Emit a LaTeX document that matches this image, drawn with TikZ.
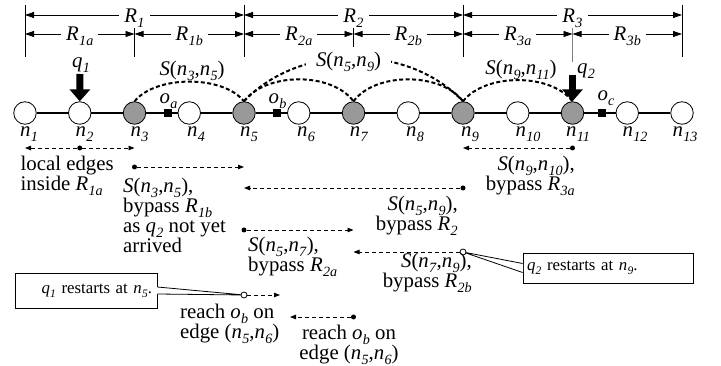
\documentclass[tikz,border=0pt]{standalone}
\usepackage{fontspec}
\setmainfont{Liberation Serif}
\usetikzlibrary{arrows.meta,calc}
\newcommand\ix[2]{\textit{#1}\kern0.3pt\raisebox{-0.22em}{\scalebox{0.68}{\textit{#2}}}}
\newcommand\Sx[2]{\textit{S}(\ix{n}{#1},\ix{n}{#2})}
\begin{document}
\begin{tikzpicture}[x=1pt,y=-1pt,
  vtx/.style={circle,draw,line width=0.8pt,minimum size=22.5pt,inner sep=0pt,fill=white},
  gvtx/.style={vtx,fill=black!40},
  obj/.style={rectangle,fill=black,minimum size=8pt,inner sep=0pt},
  lbl/.style={font=\fontsize{20.8}{20}\selectfont,inner sep=0pt},
  dim/.style={line width=0.8pt,{Triangle[length=9pt,width=6pt]}-{Triangle[length=9pt,width=6pt]}},
  dimlbl/.style={lbl,fill=white,inner xsep=5pt,inner ysep=1pt,anchor=base},
  tick/.style={line width=0.8pt},
  arcs/.style={line width=2pt,dash pattern=on 4pt off 2.5pt},
  walk/.style={line width=0.9pt,dash pattern=on 4pt off 3pt,-{Triangle[length=6pt,width=4.5pt]}},
  dotn/.style={circle,fill=black,minimum size=5pt,inner sep=0pt},
  odot/.style={circle,draw,fill=white,line width=0.8pt,minimum size=6pt,inner sep=0pt},
  qarrow/.style={line width=7pt,-{Triangle[length=12pt,width=20pt]}},
  notebox/.style={rectangle,draw,line width=0.8pt,fill=white,font=\fontsize{16.8}{16.8}\selectfont,minimum height=#1,inner ysep=0pt},
]
\useasboundingbox (0,0) rectangle (721,366);
\fill[white] (0,0) rectangle (721,366);

% ---------- top dimension lines ----------
\coordinate (t1a) at (25,5);     \coordinate (t1b) at (25,57);
\coordinate (t3a) at (134.5,27); \coordinate (t3b) at (134.5,57);
\coordinate (t5a) at (244,5);    \coordinate (t5b) at (244,57);
\coordinate (t7a) at (353.5,27); \coordinate (t7b) at (353.5,47);
\coordinate (t9a) at (463,5);    \coordinate (t9b) at (463,57);
\coordinate (t11a) at (572.5,27);\coordinate (t11b) at (572.5,62);
\coordinate (t13a) at (682,5);   \coordinate (t13b) at (682,57);
\draw[tick] (t1a) -- (t1b);
\draw[tick] (t3a) -- (t3b);
\draw[tick] (t5a) -- (t5b);
\draw[tick] (t7a) -- (t7b);
\draw[tick] (t9a) -- (t9b);
\draw[tick,gray] (t11a) -- (t11b);
\draw[tick] (t13a) -- (t13b);

\coordinate (r1l) at (25,15);  \coordinate (r1r) at (244,15);
\coordinate (r2r) at (463,15); \coordinate (r3r) at (682,15);
\draw[dim] (r1l) -- (r1r);
\draw[dim] (r1r) -- (r2r);
\draw[dim] (r2r) -- (r3r);
\node[dimlbl] (R1) at (134.5,22.5) {\ix{R}{1}};
\node[dimlbl] (R2) at (353.5,22.5) {\ix{R}{2}};
\node[dimlbl] (R3) at (572.5,22.5) {\ix{R}{3}};

\coordinate (s1) at (25,34);    \coordinate (s3) at (134.5,34);
\coordinate (s5) at (244,34);   \coordinate (s7) at (353.5,34);
\coordinate (s9) at (463,34);   \coordinate (s11) at (572.5,34);
\coordinate (s13) at (682,34);
\draw[dim] (s1) -- (s3);
\draw[dim] (s3) -- (s5);
\draw[dim] (s5) -- (s7);
\draw[dim] (s7) -- (s9);
\draw[dim] (s9) -- (s11);
\draw[dim] (s11) -- (s13);
\node[dimlbl] (R1a) at (79.75,40.5) {\ix{R}{1a}};
\node[dimlbl] (R1b) at (189.25,40.5) {\ix{R}{1b}};
\node[dimlbl] (R2a) at (298.75,40.5) {\ix{R}{2a}};
\node[dimlbl] (R2b) at (408.25,40.5) {\ix{R}{2b}};
\node[dimlbl] (R3a) at (517.75,40.5) {\ix{R}{3a}};
\node[dimlbl] (R3b) at (627.25,40.5) {\ix{R}{3b}};

% ---------- vertices ----------
\node[vtx]  (n1)  at (25,113) {};
\node[vtx]  (n2)  at (79.75,113) {};
\node[gvtx] (n3)  at (134.5,113) {};
\node[vtx]  (n4)  at (189.25,113) {};
\node[gvtx] (n5)  at (244,113) {};
\node[vtx]  (n6)  at (298.75,113) {};
\node[gvtx] (n7)  at (353.5,113) {};
\node[vtx]  (n8)  at (408.25,113) {};
\node[gvtx] (n9)  at (463,113) {};
\node[vtx]  (n10) at (517.75,113) {};
\node[gvtx] (n11) at (572.5,113) {};
\node[vtx]  (n12) at (627.25,113) {};
\node[vtx]  (n13) at (682,113) {};
\draw[line width=2pt] (n1) -- (n2) -- (n3) -- (n4) -- (n5) -- (n6) -- (n7)
  -- (n8) -- (n9) -- (n10) -- (n11) -- (n12) -- (n13);

\node[obj] (oa) at (167.5,113) {};
\node[obj] (ob) at (276.7,113) {};
\node[obj] (oc) at (602.3,113) {};
\node[lbl,anchor=base] (oal) at (168.5,104) {\ix{o}{a}};
\node[lbl,anchor=base] (obl) at (277.5,104) {\ix{o}{b}};
\node[lbl,anchor=base] (ocl) at (606,101) {\ix{o}{c}};

\node[lbl,anchor=base] (l1)  at (29,137) {\ix{n}{1}};
\node[lbl,anchor=base] (l2)  at (84.5,137) {\ix{n}{2}};
\node[lbl,anchor=base] (l3)  at (139.5,137) {\ix{n}{3}};
\node[lbl,anchor=base] (l4)  at (196,137) {\ix{n}{4}};
\node[lbl,anchor=base] (l5)  at (249,137) {\ix{n}{5}};
\node[lbl,anchor=base] (l6)  at (306,137) {\ix{n}{6}};
\node[lbl,anchor=base] (l7)  at (359,137) {\ix{n}{7}};
\node[lbl,anchor=base] (l8)  at (415,137) {\ix{n}{8}};
\node[lbl,anchor=base] (l9)  at (470,137) {\ix{n}{9}};
\node[lbl,anchor=base] (l10) at (528,137) {\ix{n}{10}};
\node[lbl,anchor=base] (l11) at (578,137) {\ix{n}{11}};
\node[lbl,anchor=base] (l12) at (635,137) {\ix{n}{12}};
\node[lbl,anchor=base] (l13) at (685,137) {\ix{n}{13}};

% ---------- shortcut arcs ----------
\draw[arcs] (n3.north) .. controls (156,75) and (223,75) .. (n5.north);
\draw[arcs] (n5.north) .. controls (266,72) and (332,72) .. (n7.north);
\draw[arcs] (n7.north) .. controls (375,72) and (441,72) .. (n9.north);
\draw[arcs] (n9.north) .. controls (485,73) and (551,73) .. (n11.north);
\draw[arcs] (n5.north) .. controls (299,43) and (408,43) .. (n9.north);
\node[lbl,anchor=base] (S35) at (192,75.5) {\Sx{3}{5}};
\node[lbl,anchor=base,fill=white,inner xsep=10pt,inner ysep=2pt] (S59) at (348.5,66.5) {\Sx{5}{9}};
\node[lbl,anchor=base] (S911) at (521,75) {\Sx{9}{11}};

% ---------- queries ----------
\node[lbl,anchor=base] (q1) at (81,67.5) {\ix{q}{1}};
\node[lbl,anchor=base west] (q2) at (577,74) {\ix{q}{2}};
\coordinate (q1top) at (80,74);
\coordinate (q2top) at (572.5,75);
\draw[qarrow] (q1top) -- (n2.north);
\draw[qarrow] (q2top) -- (n11.north);

% ---------- lower walk arrows ----------
\node[dotn] (d1) at (79.75,148) {};
\coordinate (e1l) at (25,148);
\coordinate (e1r) at (134.5,148);
\draw[walk] (d1) -- (e1l);
\draw[walk] (d1) -- (e1r);

\node[dotn] (d2) at (134.5,167) {};
\coordinate (e2) at (244,167);
\draw[walk] (d2) -- (e2);

\node[dotn] (d3) at (463,188) {};
\coordinate (e3) at (244,188);
\draw[walk] (d3) -- (e3);

\node[dotn] (d4) at (572.5,148) {};
\coordinate (e4) at (463,148);
\draw[walk] (d4) -- (e4);

\node[dotn] (d5) at (244,230) {};
\coordinate (e5) at (353.5,230);
\draw[walk] (d5) -- (e5);

\node[dotn] (d8) at (353.5,317) {};
\coordinate (e8) at (290,317);
\draw[walk] (d8) -- (e8);

% ---------- callouts ----------
\node[notebox=35pt,text width=132pt,align=right,inner xsep=5pt] (c1) at (86,290.5) {\ix{q}{1} restarts at \ix{n}{5}.};
\node[notebox=30pt,text width=162pt,align=left,inner xsep=4pt] (c2) at (608,268) {\raisebox{3pt}{\ix{q}{2} restarts at \ix{n}{9}.}};
\coordinate (p1) at (244,295);
\coordinate (p2) at (463,252);
\fill[white] ($(c1.east)+(-0.6,-3.5)$) -- (p1) -- ($(c1.east)+(-0.6,3.5)$) -- cycle;
\draw[line width=0.8pt] ($(c1.east)+(0,-3.5)$) -- (p1) -- ($(c1.east)+(0,3.5)$);
\fill[white] ($(c2.west)+(0.6,-4.5)$) -- (p2) -- ($(c2.west)+(0.6,4.5)$) -- cycle;
\draw[line width=0.8pt] ($(c2.west)+(0,-4.5)$) -- (p2) -- ($(c2.west)+(0,4.5)$);

\node[odot] (o7) at (p2) {};
\coordinate (e6) at (353.5,252);
\draw[walk] (o7) -- (e6);

\node[odot] (o6) at (p1) {};
\coordinate (e7) at (280,295);
\draw[walk] (o6) -- (e7);

% ---------- lower texts (base anchor = baseline of last line) ----------
\node[lbl,align=left,anchor=base west] (tA) at (20.5,191) {local edges\\inside \ix{R}{1a}};
\node[lbl,align=left,anchor=base west] (tB) at (123,252.5) {\Sx{3}{5},\\bypass \ix{R}{1b}\\as \ix{q}{2} not yet\\arrived};
\node[lbl,align=right,anchor=base east] (tC) at (575,190.5) {\Sx{9}{10},\\bypass \ix{R}{3a}};
\node[lbl,align=right,anchor=base east] (tD) at (458,231) {\Sx{5}{9},\\bypass \ix{R}{2}};
\node[lbl,align=left,anchor=base west] (tE) at (248,271.5) {\Sx{5}{7},\\bypass \ix{R}{2a}};
\node[lbl,align=right,anchor=base east] (tF) at (472,288) {\Sx{7}{9},\\bypass \ix{R}{2b}};
\node[lbl,align=left,anchor=base west] (tG) at (180,338.5) {reach \ix{o}{b} on\\edge (\ix{n}{5},\ix{n}{6})};
\node[lbl,align=center,anchor=base] (tH) at (349,359.5) {reach \ix{o}{b} on\\edge (\ix{n}{5},\ix{n}{6})};
\end{tikzpicture}
\end{document}
